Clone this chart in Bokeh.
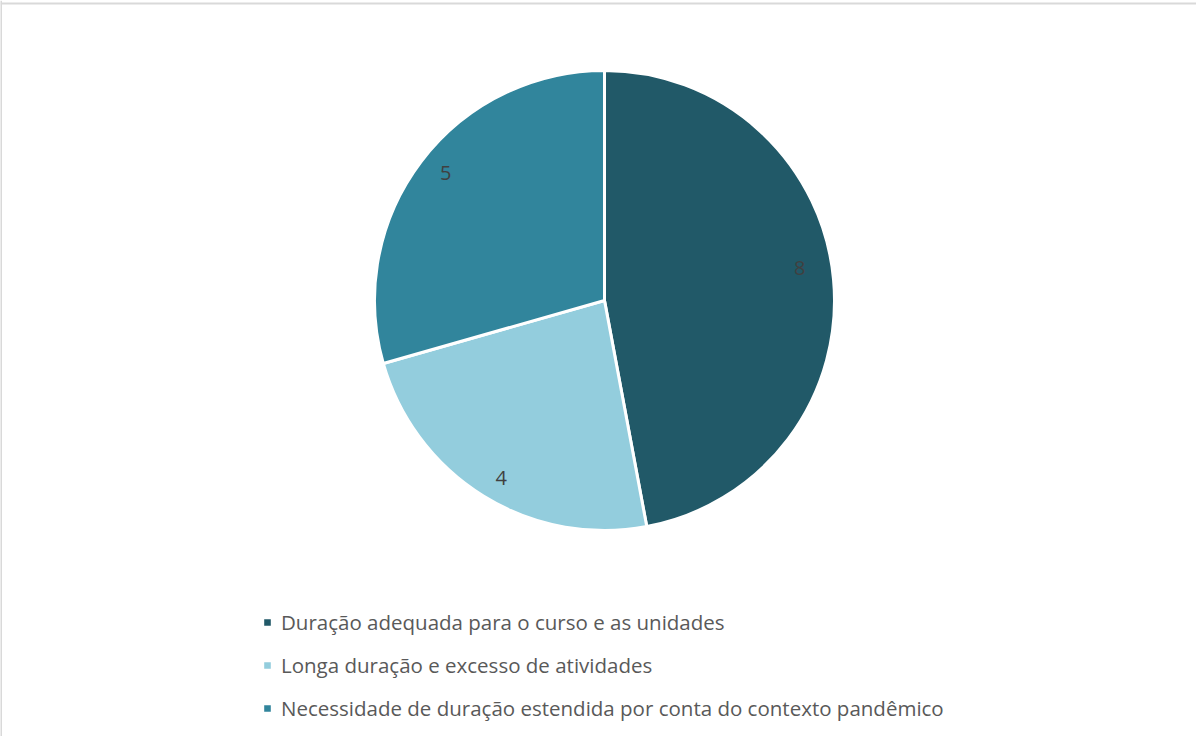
import numpy as np
from bokeh.plotting import figure
from bokeh.models import ColumnDataSource, Range1d, Legend, LegendItem, Span
from bokeh.core.properties import value
from bokeh.embed import file_html
from bokeh.resources import INLINE

# ---- data ----
categories = [
    "Duração adequada para o curso e as unidades",
    "Longa duração e excesso de atividades",
    "Necessidade de duração estendida por conta do contexto pandêmico",
]
counts = [8, 4, 5]
colors = ["#215968", "#93CDDD", "#31859C"]

# ---- layout constants (pixels) ----
W, H = 1196, 736
CX, CY = 604, H - 300          # pie centre in canvas px (y from bottom)
R = 230
LABEL_R = 0.87 * R
LABEL_DX = [-4, 2, 1]          # small label nudges (screen px)
LABEL_DY = [-14, 7, -7]
FONT = "Open Sans"

vals = np.array(counts, dtype=float)
frac = vals / vals.sum()
cum_end = np.cumsum(frac)
cum_start = cum_end - frac
start = np.pi / 2 - 2 * np.pi * cum_start
end = np.pi / 2 - 2 * np.pi * cum_end
mid = (start + end) / 2

src = ColumnDataSource(dict(
    cat=categories, count=counts, color=colors,
    start=start, end=end,
    lx=CX + LABEL_R * np.cos(mid), ly=CY + LABEL_R * np.sin(mid),
    dx=LABEL_DX, dy=LABEL_DY,
    txt=[str(c) for c in counts],
))

p = figure(width=W, height=H, x_range=Range1d(0, W), y_range=Range1d(0, H),
           toolbar_location=None, output_backend="svg", min_border=0,
           title=None)
p.axis.visible = False
p.grid.visible = False
p.outline_line_color = None
p.background_fill_color = "white"
p.border_fill_color = "white"

# chart-area border (top and left visible)
p.add_layout(Span(location=H - 3, dimension="width", line_color="#d9d9d9", line_width=2))
p.add_layout(Span(location=0.5, dimension="height", line_color="#d9d9d9", line_width=2))

wr = p.wedge(x=CX, y=CY, radius=R, start_angle="start", end_angle="end",
             direction="clock", fill_color="color", line_color="white",
             line_width=3, source=src)

p.text(x="lx", y="ly", text="txt", x_offset="dx", y_offset="dy", source=src,
       text_align="center", text_baseline="middle", text_font=value(FONT),
       text_font_size="20px", text_color="#404040")

items = [LegendItem(label=cat, renderers=[wr], index=i)
         for i, cat in enumerate(categories)]

legend = Legend(items=items, location=(261, 14), orientation="vertical",
                glyph_width=12, glyph_height=12, label_standoff=8,
                spacing=15, padding=0, margin=0,
                label_text_font=FONT, label_text_font_size="20.5px",
                label_text_color="#595959", label_text_baseline="middle",
                border_line_color=None, background_fill_alpha=0)
p.add_layout(legend)

open("out.html", "w").write(file_html(p, INLINE))
